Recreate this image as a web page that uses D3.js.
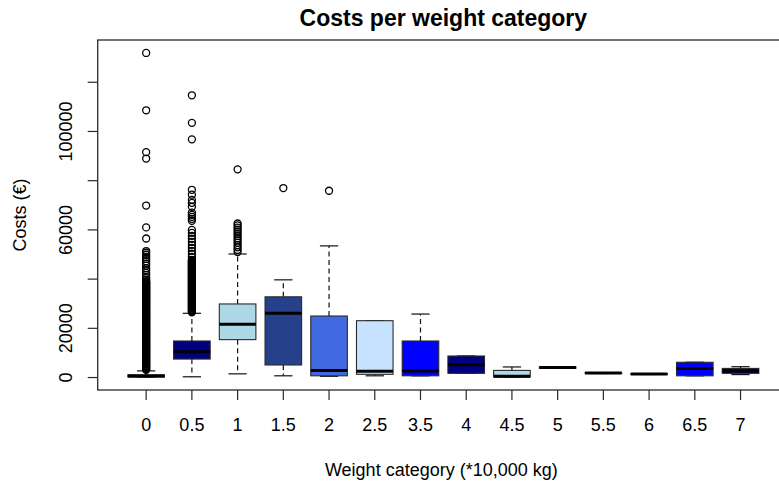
<!DOCTYPE html>
<html>
<head>
<meta charset="utf-8">
<script src="https://cdn.jsdelivr.net/npm/d3@7"></script>
<style>
  body { margin: 0; background: #fff; }
  text { font-family: "Liberation Sans", Arial, sans-serif; fill: #000; }
</style>
</head>
<body>
<svg id="chart" width="779" height="484"></svg>
<script>
// Weight categories (*10,000 kg)
const categories = ["0", "0.5", "1", "1.5", "2", "2.5", "3.5", "4", "4.5", "5", "5.5", "6", "6.5", "7"];

// Five-number summaries of the costs (EUR) per category
const lowerWhisker = [0, 100, 1300, 500, 300, 500, 500, 1500, 0, 3600, 1450, 1050, 500, 1000];
const q1           = [0, 7300, 15200, 4900, 500, 1100, 500, 1500, 0, 3600, 1450, 1050, 500, 1500];
const median       = [450, 10300, 21450, 25900, 2700, 2400, 2500, 5000, 300, 3850, 1600, 1200, 3500, 2500];
const q3           = [900, 14650, 29700, 32600, 24800, 22900, 14650, 8550, 2700, 4100, 1750, 1350, 6000, 3500];
const upperWhisker = [2500, 25900, 50000, 39500, 53300, 22900, 25600, 8550, 4100, 4100, 1750, 1350, 6000, 4200];

// Outlying costs per category
const outliers0 = [131700, 108400, 91400, 88800, 69700, 60800, 56300, 51200, 50500, 49700, 48800, 48000,
  47100, 46100, 45300, 44200, 43400, 42300, 41500, 40400, 39600,
  38950, 38620, 38340, 38010, 37730, 37400, 37120, 36810, 36500, 36230, 35900, 35620, 35300, 35010, 34700,
  34420, 34100, 33820, 33500, 33210, 32900, 32630, 32300, 32020, 31700, 31410, 31100, 30830, 30500, 30220,
  29900, 29610, 29300, 29030, 28700, 28420, 28100, 27810, 27500, 27230, 26900, 26620, 26300, 26010, 25700,
  25430, 25100, 24820, 24500, 24210, 23900, 23630, 23300, 23020, 22700, 22410, 22100, 21830, 21500, 21220,
  20900, 20610, 20300, 20030, 19700, 19420, 19100, 18810, 18500, 18230, 17900, 17620, 17300, 17010, 16700,
  16430, 16100, 15820, 15500, 15210, 14900, 14630, 14300, 14020, 13700, 13410, 13100, 12830, 12500, 12220,
  11900, 11610, 11300, 11030, 10700, 10420, 10100, 9810, 9500, 9230, 8900, 8620, 8300, 8010, 7700, 7430,
  7100, 6820, 6500, 6210, 5900, 5630, 5300, 5020, 4700, 4410, 4100, 3830, 3500, 3220, 2900];
const outliers05 = [114500, 103300, 96600, 76100, 74100, 72000, 70800, 69200, 66800, 65900, 65100, 64300,
  63500, 59800, 58600, 57400, 56200, 54900, 53700, 52500, 51300, 50100, 48800, 47600,
  47300, 47010, 46700, 46420, 46100, 45830, 45500, 45210, 44900, 44630, 44300, 44020, 43700, 43410, 43100,
  42830, 42500, 42220, 41900, 41610, 41300, 41030, 40700, 40420, 40100, 39810, 39500, 39230, 38900, 38620,
  38300, 38010, 37700, 37430, 37100, 36820, 36500, 36210, 35900, 35630, 35300, 35020, 34700, 34410, 34100,
  33830, 33500, 33220, 32900, 32610, 32300, 32030, 31700, 31420, 31100, 30810, 30500, 30230, 29900, 29620,
  29300, 29010, 28700, 28430, 28100, 27820, 27500, 27210, 26900, 26630, 26300];
const outliers1 = [84400, 62400, 61600, 60700, 59900, 59000, 58200, 57300, 56400, 55500, 54600, 53600, 52700, 51700, 50800];
const outliers15 = [76800];
const outliers2 = [75700];
const outliers = [outliers0, outliers05, outliers1, outliers15, outliers2, [], [], [], [], [], [], [], [], []];

// Fill colours, cycling through a palette of blues
const palette = ["#0000FF", "#000080", "#ADD8E6", "#27408B", "#4169E1", "#C6E2FF"];

// Axis ticks
const yTicks = [0, 20000, 40000, 60000, 80000, 100000, 120000];
const yTickLabels = ["0", "20000", "", "60000", "", "100000", ""];

const svg = d3.select("#chart");
const plot = { left: 97.7, right: 789, top: 40, bottom: 390 };
const ink = "#2a2a2a";

const x = d3.scaleBand()
  .domain(categories)
  .range([plot.left, plot.right])
  .paddingInner(0.2)
  .paddingOuter(0.66);

const allValues = lowerWhisker.concat(upperWhisker, ...outliers);
const vMin = d3.min(allValues), vMax = d3.max(allValues);
const pad = 0.04 * (vMax - vMin);
const y = d3.scaleLinear().domain([vMin - pad, vMax + pad]).range([plot.bottom, plot.top]);

const bw = x.bandwidth();
const capW = bw * 0.5;

const boxes = svg.append("g");
categories.forEach((c, i) => {
  const cx = x(c) + bw / 2;
  const g = boxes.append("g");
  // whiskers
  g.append("line").attr("x1", cx).attr("x2", cx).attr("y1", y(q3[i])).attr("y2", y(upperWhisker[i]))
    .attr("stroke", "#111").attr("stroke-width", 1.2).attr("stroke-dasharray", "5,3.5");
  g.append("line").attr("x1", cx).attr("x2", cx).attr("y1", y(q1[i])).attr("y2", y(lowerWhisker[i]))
    .attr("stroke", "#111").attr("stroke-width", 1.2).attr("stroke-dasharray", "5,3.5");
  // caps
  [upperWhisker[i], lowerWhisker[i]].forEach(v => {
    g.append("line").attr("x1", cx - capW / 2).attr("x2", cx + capW / 2)
      .attr("y1", y(v)).attr("y2", y(v)).attr("stroke", "#111").attr("stroke-width", 1.2);
  });
  // box
  g.append("rect")
    .attr("x", x(c)).attr("width", bw)
    .attr("y", y(q3[i])).attr("height", Math.max(0, y(q1[i]) - y(q3[i])))
    .attr("fill", palette[i % palette.length])
    .attr("stroke", ink).attr("stroke-width", 1.1);
  // median
  g.append("line").attr("x1", x(c)).attr("x2", x(c) + bw)
    .attr("y1", y(median[i])).attr("y2", y(median[i]))
    .attr("stroke", "#000").attr("stroke-width", 3);
  // outliers
  g.selectAll("circle").data(outliers[i]).join("circle")
    .attr("cx", cx).attr("cy", d => y(d)).attr("r", 3.5)
    .attr("fill", "none").attr("stroke", "#000").attr("stroke-width", 1.3);
});

// plot frame
svg.append("rect")
  .attr("x", plot.left).attr("y", plot.top)
  .attr("width", plot.right - plot.left).attr("height", plot.bottom - plot.top)
  .attr("fill", "none").attr("stroke", ink).attr("stroke-width", 1.3);

// x axis
const gx = svg.append("g")
  .attr("transform", `translate(0,${plot.bottom})`)
  .call(d3.axisBottom(x).tickSize(10).tickSizeOuter(0).tickPadding(18));
gx.select(".domain").remove();
gx.selectAll(".tick line").attr("stroke", ink).attr("stroke-width", 1.2);
gx.selectAll(".tick text").attr("font-size", 18).attr("fill", "#000")
  .style("font-family", '"Liberation Sans", Arial, sans-serif');

// y axis
const gy = svg.append("g")
  .attr("transform", `translate(${plot.left},0)`)
  .call(d3.axisLeft(y).tickValues(yTicks).tickFormat((d, i) => yTickLabels[i]).tickSize(10).tickSizeOuter(0));
gy.select(".domain").remove();
gy.selectAll(".tick line").attr("stroke", ink).attr("stroke-width", 1.2);
gy.selectAll(".tick text")
  .attr("transform", "rotate(-90)")
  .attr("x", 0).attr("y", -25.7).attr("dy", null)
  .attr("text-anchor", "middle")
  .attr("font-size", 18).attr("fill", "#000")
  .style("font-family", '"Liberation Sans", Arial, sans-serif');

// titles
const cxPlot = (plot.left + plot.right) / 2;
svg.append("text")
  .attr("x", cxPlot).attr("y", 26)
  .attr("text-anchor", "middle")
  .attr("font-size", 23).attr("font-weight", "bold")
  .text("Costs per weight category");

svg.append("text")
  .attr("x", cxPlot - 2).attr("y", 476)
  .attr("text-anchor", "middle")
  .attr("font-size", 18)
  .text("Weight category (*10,000 kg)");

svg.append("text")
  .attr("transform", `translate(26,${(plot.top + plot.bottom) / 2}) rotate(-90)`)
  .attr("text-anchor", "middle")
  .attr("font-size", 18)
  .text("Costs (€)");
</script>
</body>
</html>
